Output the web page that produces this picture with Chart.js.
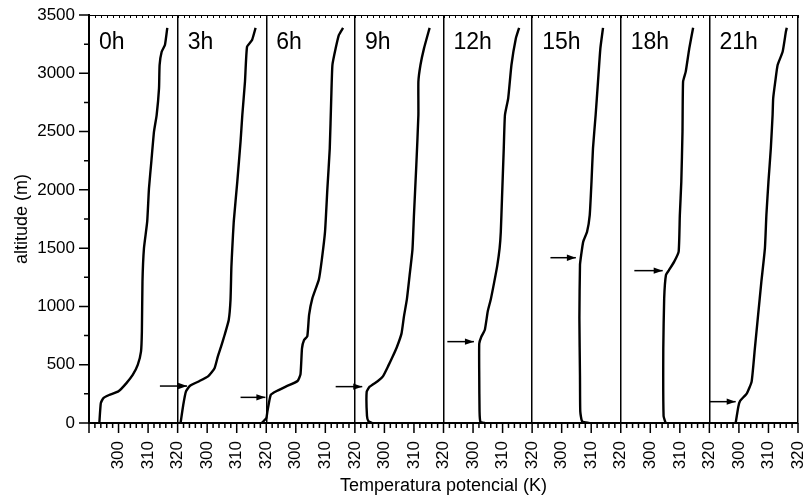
<!DOCTYPE html>
<html>
<head>
<meta charset="utf-8">
<script src="https://cdn.jsdelivr.net/npm/chart.js@4.4.0/dist/chart.umd.min.js"></script>
<style>
  html, body { margin: 0; padding: 0; background: #fff; }
  #wrap { width: 804px; height: 498px; }
</style>
</head>
<body>
<div id="wrap"><canvas id="profiles"></canvas></div>
<script>
// One panel per sounding time
const hours = ['0h', '3h', '6h', '9h', '12h', '15h', '18h', '21h'];

// Potential temperature (K) against altitude (m)
const alt0h = [0, 170, 212, 240, 272, 340, 412, 498, 612, 784, 1212, 1498, 1727, 2013, 2242, 2499, 2642, 2871, 3071, 3185, 3243, 3390];
const theta0h = [293.5, 294.0, 294.8, 296.8, 300.0, 302.6, 304.8, 306.5, 307.6, 307.9, 308.1, 308.6, 309.7, 310.3, 311.1, 312.0, 312.9, 313.7, 313.9, 314.6, 315.7, 316.5];

const alt3h = [0, 154, 269, 320, 360, 400, 470, 570, 655, 755, 884, 1055, 1340, 1498, 1727, 2070, 2413, 2642, 2928, 3228, 3286, 3390];
const theta3h = [291.0, 291.9, 292.8, 294.2, 297.4, 300.3, 302.5, 303.6, 304.7, 305.9, 307.3, 307.9, 308.2, 308.5, 309.0, 310.2, 311.3, 311.9, 312.8, 313.5, 315.2, 316.4];

const alt6h = [0, 40, 100, 240, 270, 312, 360, 420, 640, 712, 745, 927, 1069, 1230, 1400, 1641, 2013, 2356, 2785, 3071, 3214, 3329, 3390];
const theta6h = [288.5, 290.0, 290.4, 291.5, 293.2, 296.6, 300.6, 301.6, 302.1, 302.8, 303.9, 304.5, 305.6, 307.8, 308.8, 309.9, 310.7, 311.5, 312.0, 312.4, 313.5, 314.6, 316.0];

const alt9h = [0, 15, 60, 269, 312, 360, 400, 490, 570, 650, 769, 912, 1060, 1260, 1490, 1784, 2213, 2642, 2928, 3071, 3214, 3390];
const theta9h = [295.8, 294.6, 294.1, 294.0, 295.0, 297.8, 299.5, 301.3, 302.8, 304.2, 305.8, 306.6, 307.6, 308.5, 309.5, 310.0, 310.8, 311.5, 311.5, 312.2, 313.4, 315.3];

const alt12h = [0, 8, 100, 400, 680, 740, 800, 960, 1060, 1200, 1350, 1500, 1641, 1927, 2356, 2642, 2785, 3071, 3300, 3390];
const theta12h = [304.0, 302.5, 302.2, 302.1, 302.1, 302.8, 304.0, 305.0, 306.0, 307.1, 308.2, 309.0, 309.4, 309.8, 310.4, 310.8, 311.9, 313.0, 314.5, 315.6];

const alt15h = [0, 15, 100, 400, 900, 1355, 1441, 1556, 1641, 1784, 2070, 2356, 2642, 2928, 3214, 3390];
const theta15h = [309.3, 306.9, 306.3, 306.2, 306.0, 306.2, 306.6, 307.3, 308.6, 309.5, 310.1, 310.6, 311.5, 312.3, 313.1, 314.0];

const alt18h = [0, 60, 640, 1069, 1270, 1310, 1384, 1470, 1784, 2070, 2499, 2928, 3014, 3214, 3390];
const theta18h = [305.2, 304.5, 304.4, 304.7, 305.3, 306.3, 308.1, 309.6, 310.0, 310.5, 310.9, 311.1, 312.0, 313.2, 314.5];

const alt21h = [0, 140, 190, 255, 355, 641, 927, 1212, 1498, 1784, 2070, 2356, 2642, 2785, 2928, 3071, 3185, 3357, 3390];
const theta21h = [298.9, 299.8, 300.4, 302.7, 304.3, 305.4, 306.5, 307.6, 308.8, 309.3, 310.0, 310.8, 311.4, 311.6, 312.3, 313.1, 314.8, 315.9, 316.2];

// Boundary-layer height arrows (altitude, tail and tip in the panel's K)
const arrowAlt = [null, 317, 220, 312, 698, 1418, 1307, 183];
const arrowFrom = [null, 284.0, 281.3, 283.5, 291.3, 296.2, 294.6, 290.2];
const arrowTo = [null, 293.2, 289.7, 292.5, 300.3, 304.8, 304.2, 298.9];

// Axis ticks
const altTicks = [0, 500, 1000, 1500, 2000, 2500, 3000, 3500];
const thetaLabels = [300, 310, 320];

const BASE = 290;   // left edge of each panel (K)
const PANEL = 30;   // K covered by one panel

const profiles = [
  [theta0h, alt0h], [theta3h, alt3h], [theta6h, alt6h], [theta9h, alt9h],
  [theta12h, alt12h], [theta15h, alt15h], [theta18h, alt18h], [theta21h, alt21h]
];

const toX = (t, i) => t - BASE + i * PANEL;

const datasets = profiles.map(([theta, alt], i) => ({
  label: hours[i],
  data: theta.map((t, k) => ({ x: toX(t, i), y: alt[k] })),
  borderColor: '#000',
  borderWidth: 2.4,
  pointRadius: 0,
  tension: 0.15
}));

hours.forEach((h, i) => {
  if (arrowAlt[i] == null) return;
  datasets.push({
    label: 'CLP ' + h,
    arrow: true,
    data: [{ x: toX(arrowFrom[i], i), y: arrowAlt[i] }, { x: toX(arrowTo[i], i), y: arrowAlt[i] }],
    borderColor: '#000',
    borderWidth: 1.5,
    pointRadius: 0
  });
});

// Tick marks, top frame, arrow heads and panel names
const frame = {
  id: 'frame',
  afterDatasetsDraw(chart) {
    const { ctx, chartArea: a, scales: { x, y } } = chart;
    ctx.save();
    ctx.strokeStyle = '#000';
    ctx.fillStyle = '#000';

    chart.data.datasets.forEach((ds, i) => {
      if (!ds.arrow) return;
      const pts = chart.getDatasetMeta(i).data;
      const tip = pts[pts.length - 1];
      ctx.beginPath();
      ctx.moveTo(tip.x, tip.y);
      ctx.lineTo(tip.x - 9, tip.y - 3.2);
      ctx.lineTo(tip.x - 9, tip.y + 3.2);
      ctx.closePath();
      ctx.fill();
    });

    ctx.lineWidth = 1;
    ctx.beginPath();
    ctx.moveTo(a.left, a.top + 0.5);
    ctx.lineTo(a.right, a.top + 0.5);
    x.ticks.forEach(t => {
      const px = Math.round(x.getPixelForValue(t.value)) + 0.5;
      ctx.moveTo(px, a.top);
      ctx.lineTo(px, a.top + 3);
    });
    ctx.stroke();

    ctx.lineWidth = 1.5;
    ctx.beginPath();
    x.ticks.forEach(t => {
      const px = x.getPixelForValue(t.value);
      const len = t.value % 10 === 0 ? 10 : 5;
      ctx.moveTo(px, a.bottom);
      ctx.lineTo(px, a.bottom + len);
    });
    y.ticks.forEach(t => {
      const py = y.getPixelForValue(t.value);
      const len = altTicks.includes(t.value) ? 10 : 5;
      ctx.moveTo(a.left, py);
      ctx.lineTo(a.left - len, py);
    });
    ctx.stroke();

    ctx.font = '23px "Liberation Sans", Arial, sans-serif';
    ctx.textBaseline = 'alphabetic';
    hours.forEach((h, i) => {
      ctx.fillText(h, x.getPixelForValue(i * PANEL) + 10, a.top + 34);
    });
    ctx.restore();
  }
};

Chart.defaults.font.family = '"Liberation Sans", Arial, sans-serif';
Chart.defaults.color = '#000';

new Chart(document.getElementById('profiles'), {
  type: 'line',
  data: { datasets },
  options: {
    responsive: true,
    maintainAspectRatio: false,
    animation: false,
    layout: { padding: { top: 15, right: 6, left: 0, bottom: 0 } },
    plugins: { legend: { display: false }, tooltip: { enabled: false } },
    scales: {
      x: {
        type: 'linear',
        min: 0,
        max: hours.length * PANEL,
        border: { display: true, color: '#000', width: 2 },
        grid: {
          drawOnChartArea: true,
          color: c => (c.tick && c.tick.value > 0 && c.tick.value % PANEL === 0) ? '#000' : 'rgba(0,0,0,0)',
          lineWidth: 1.5,
          tickColor: 'rgba(0,0,0,0)',
          tickLength: 10
        },
        ticks: {
          stepSize: 2,
          autoSkip: false,
          minRotation: 90,
          maxRotation: 90,
          padding: 8,
          font: { size: 17 },
          callback: v => {
            const r = v % PANEL;
            const t = BASE + (r === 0 && v > 0 ? PANEL : r);
            return thetaLabels.includes(t) && v > 0 ? String(t) : '';
          }
        },
        title: {
          display: true,
          text: 'Temperatura potencial (K)',
          font: { size: 18 },
          padding: { top: 0, bottom: 1 }
        },
        afterFit: s => { s.height = 75; s.paddingLeft = 0; s.paddingRight = 0; }
      },
      y: {
        type: 'linear',
        min: 0,
        max: 3500,
        border: { display: true, color: '#000', width: 2 },
        grid: { drawOnChartArea: false, tickColor: 'rgba(0,0,0,0)', tickLength: 10 },
        ticks: {
          stepSize: 250,
          autoSkip: false,
          padding: 4,
          font: { size: 17 },
          callback: v => altTicks.includes(v) ? String(v) : ''
        },
        title: {
          display: true,
          text: 'altitude (m)',
          font: { size: 18 },
          padding: { top: 11, bottom: 0 }
        },
        afterFit: s => { s.width = 89; s.paddingTop = 0; s.paddingBottom = 0; }
      }
    }
  },
  plugins: [frame]
});
</script>
</body>
</html>
